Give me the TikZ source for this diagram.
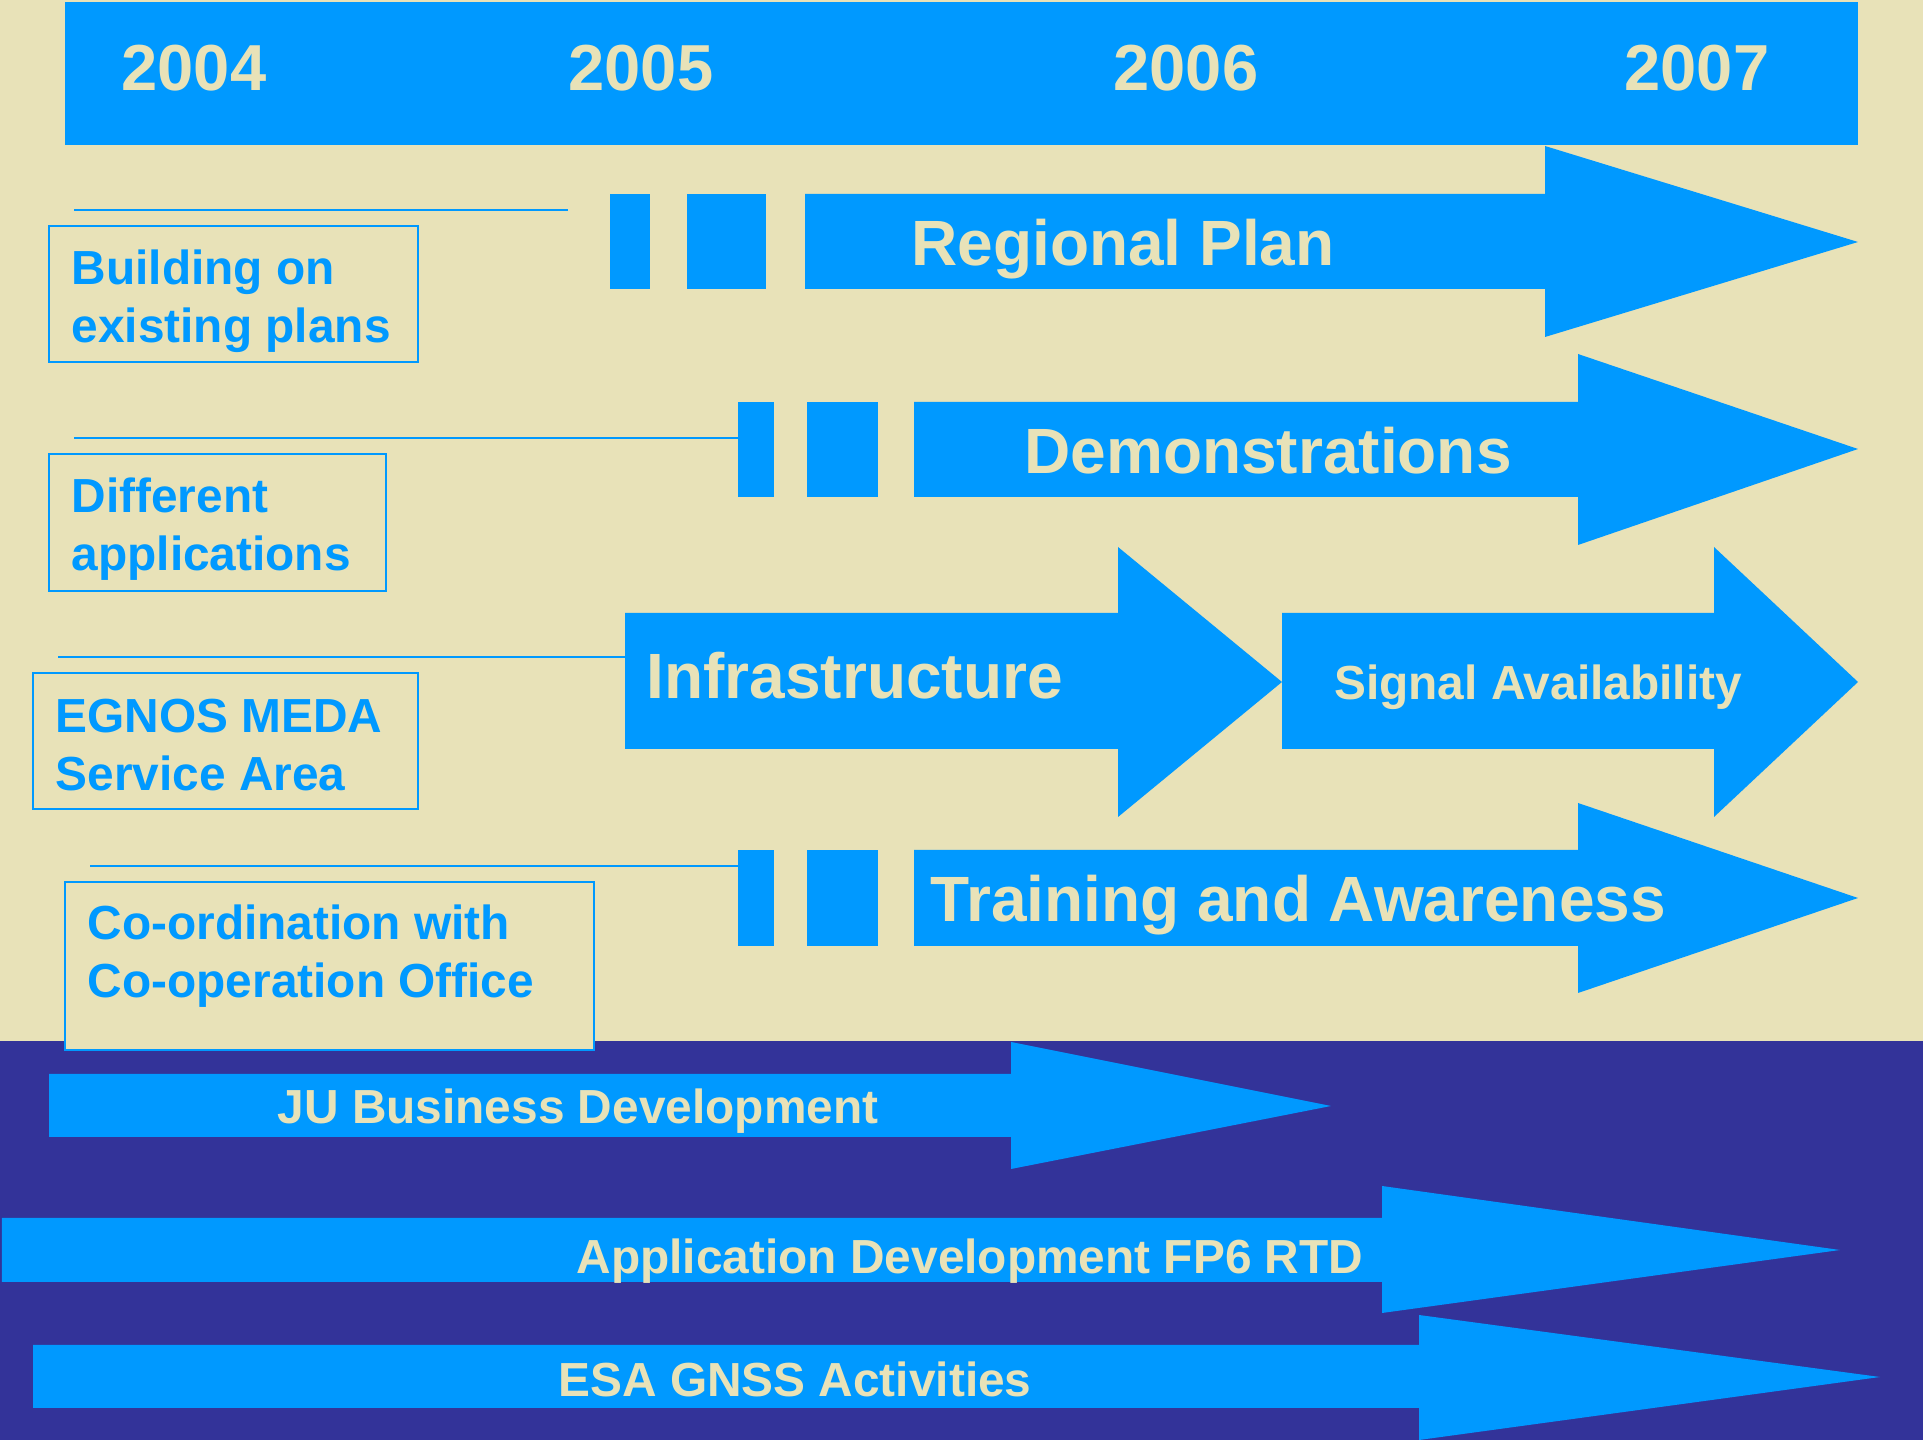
\documentclass[tikz,border=0pt]{standalone}
\usepackage{fontspec}
\setmainfont{Liberation Sans}
\definecolor{sand}{HTML}{E8E2B8}
\definecolor{sky}{HTML}{0099FF}
\definecolor{navy}{HTML}{333399}
\tikzset{
	bar/.style       = {fill=sky},
	guide/.style     = {draw=sky, line width=0.6pt},
	topic/.style     = {draw=sky, line width=0.6pt, fill=sand},
	topictext/.style = {text=sky, anchor=west, align=left, inner sep=0pt, font=\bfseries\fontsize{13.6}{16.6}\selectfont},
	year/.style      = {text=sand, inner sep=0pt, font=\bfseries\fontsize{18.5}{22}\selectfont},
	phase/.style     = {text=sand, inner sep=0pt, font=\bfseries\fontsize{18.2}{21}\selectfont},
	subphase/.style  = {text=sand, inner sep=0pt, font=\bfseries\fontsize{13.6}{16}\selectfont},
	track/.style     = {text=sand, inner sep=0pt, font=\bfseries\fontsize{13.6}{16}\selectfont},
}

\begin{document}
\begin{tikzpicture}[x=0.01cm, y=-0.01cm]
	\useasboundingbox (0,0) rectangle (1923,1440);
	% Background
	\fill[sand] (0,0) rectangle (1923,1041);
	\fill[navy] (0,1041) rectangle (1923,1440);

	% Years
	\fill[bar] (65,2) rectangle (1858,145);
	\node[year] (y2004) at (194,68)  {2004};
	\node[year] (y2005) at (641,68)  {2005};
	\node[year] (y2006) at (1186,68) {2006};
	\node[year] (y2007) at (1697,68) {2007};

	% Regional plan
	\draw[guide] (74,210) -- (568,210);
	\draw[topic] (49,226) rectangle (418,362);
	\node[topictext] (plans) at (71,301) {Building on\\existing plans};
	\fill[bar] (610,194) rectangle (650,289);
	\fill[bar] (687,194) rectangle (766,289);
	\fill[bar] (805,194) -- (1545,194) -- (1545,146) -- (1858,242) -- (1545,337) -- (1545,289) -- (805,289) -- cycle;
	\node[phase] (regional) at (1123,249) {Regional Plan};

	% Demonstrations
	\draw[guide] (74,438) -- (738,438);
	\draw[topic] (49,454) rectangle (386,591);
	\node[topictext] (apps) at (71,529) {Different\\applications};
	\fill[bar] (738,402) rectangle (774,497);
	\fill[bar] (807,402) rectangle (878,497);
	\fill[bar] (914,402) -- (1578,402) -- (1578,354) -- (1858,449) -- (1578,545) -- (1578,497) -- (914,497) -- cycle;
	\node[phase] (demo) at (1268,451) {Demonstrations};

	% Infrastructure
	\draw[guide] (58,657) -- (625,657);
	\draw[topic] (33,673) rectangle (418,809);
	\node[topictext] (meda) at (55,745) {EGNOS MEDA\\Service Area};
	\fill[bar] (625,613) -- (1118,613) -- (1118,547) -- (1282,682) -- (1118,817) -- (1118,749) -- (625,749) -- cycle;
	\fill[bar] (1282,613) -- (1714,613) -- (1714,547) -- (1858,682) -- (1714,817) -- (1714,749) -- (1282,749) -- cycle;
	\node[phase, anchor=west] (infra) at (646,676) {Infrastructure};
	\node[subphase] (signal) at (1538,687) {Signal Availability};

	% Training
	\draw[guide] (90,866) -- (738,866);
	\draw[topic] (65,882) rectangle (594,1050);
	\node[topictext] (office) at (87,956) {Co-ordination with\\Co-operation Office};
	\fill[bar] (738,850) rectangle (774,946);
	\fill[bar] (807,850) rectangle (878,946);
	\fill[bar] (914,850) -- (1578,850) -- (1578,803) -- (1858,898) -- (1578,993) -- (1578,946) -- (914,946) -- cycle;
	\node[phase, anchor=west] (training) at (930,905) {Training and Awareness};

	% Lower tracks
	\fill[bar] (49,1074) -- (1011,1074) -- (1011,1042) -- (1331,1106) -- (1011,1169) -- (1011,1137) -- (49,1137) -- cycle;
	\node[track] (business) at (578,1111) {JU Business Development};
	\fill[bar] (2,1218) -- (1382,1218) -- (1382,1186) -- (1840,1250) -- (1382,1313) -- (1382,1282) -- (2,1282) -- cycle;
	\node[track] (fp6) at (970,1261) {Application Development FP6 RTD};
	\fill[bar] (33,1345) -- (1419,1345) -- (1419,1315) -- (1880,1377) -- (1419,1440) -- (1419,1408) -- (33,1408) -- cycle;
	\node[track] (esa) at (795,1379) {ESA GNSS Activities};
\end{tikzpicture}
\end{document}
